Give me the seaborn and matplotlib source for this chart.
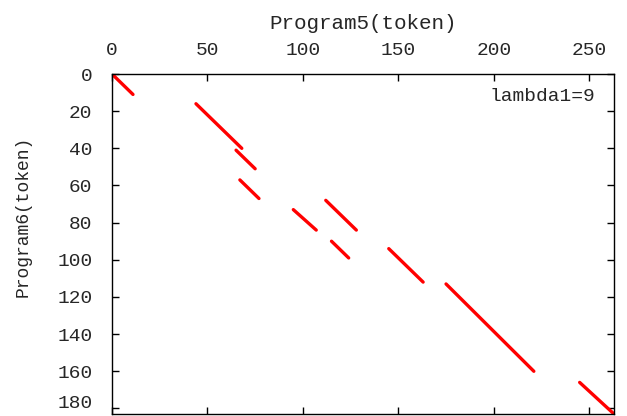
import pandas as pd
import seaborn as sns
import matplotlib.pyplot as plt
from matplotlib.transforms import ScaledTranslation

# token match runs (start/end of each diagonal run)
seg_x0 = [0, 44, 65, 67, 95, 112, 115, 145, 175, 245]
seg_y0 = [0, 16, 41, 57, 73, 68, 90, 94, 113, 166]
seg_x1 = [11, 68, 75, 77, 107, 128, 124, 163, 221, 263]
seg_y1 = [11, 40, 51, 67, 84, 84, 99, 112, 160, 183]

x_ticks = [0, 50, 100, 150, 200, 250]
y_ticks = [0, 20, 40, 60, 80, 100, 120, 140, 160, 180]

rows = []
for i in range(len(seg_x0)):
    rows.append({'seg': i, 'x': seg_x0[i], 'y': seg_y0[i]})
    rows.append({'seg': i, 'x': seg_x1[i], 'y': seg_y1[i]})
df = pd.DataFrame(rows)

sns.set_style('white')
plt.rcParams['font.family'] = ['Liberation Mono', 'DejaVu Sans Mono']

fig = plt.figure(figsize=(6.27, 4.16), dpi=100)
ax = fig.add_axes([0.1786, 0.0048, 0.8007, 0.8173])

sns.lineplot(data=df, x='x', y='y', units='seg', estimator=None, sort=False,
             color='#ff0000', lw=2.4, solid_capstyle='round', ax=ax, legend=False)

ax.set_xlim(0, 263)
ax.set_ylim(183, 0)
ax.set_xticks(x_ticks)
ax.set_yticks(y_ticks)

ax.xaxis.set_label_position('top')
ax.set_xlabel('Program5(token)', fontsize=15, labelpad=9)
ax.set_ylabel('Program6(token)', fontsize=13)
ax.yaxis.set_label_coords(-0.16, 0.58)

ax.tick_params(axis='both', direction='in', length=5, width=1, color='black',
               top=True, bottom=True, left=True, right=True,
               labeltop=True, labelbottom=False, labelleft=True, labelright=False,
               labelsize=14)
ax.tick_params(axis='x', pad=11)
ax.tick_params(axis='y', pad=14)

# keep the bottom label inside the canvas
last = ax.get_yticklabels()[-1]
last.set_transform(last.get_transform() + ScaledTranslation(0, 5 / 72, fig.dpi_scale_trans))

for s in ax.spines.values():
    s.set_color('black')
    s.set_linewidth(1.0)
    s.set_visible(True)

ax.text(0.962, 0.935, 'lambda1=9', transform=ax.transAxes, ha='right', va='center',
        fontsize=14)

fig.savefig('out.png', dpi=100)
